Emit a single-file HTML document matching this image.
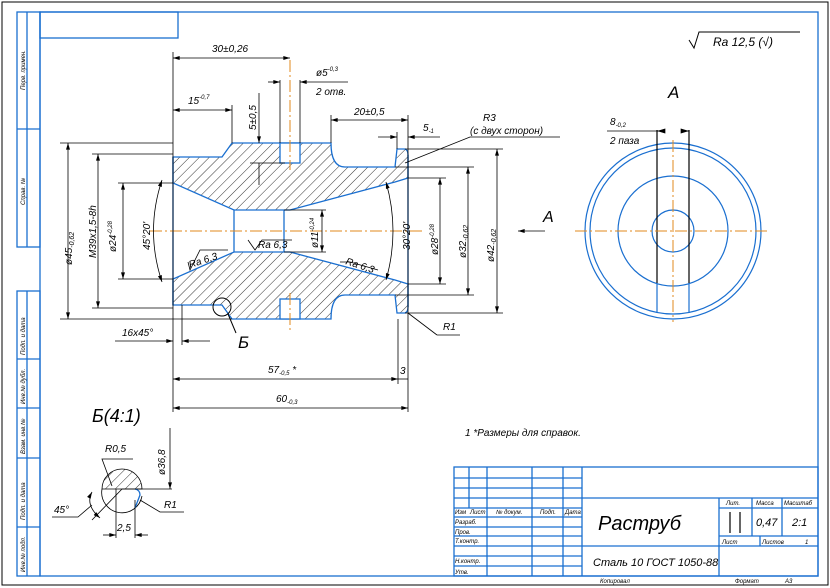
<!DOCTYPE html>
<html><head><meta charset="utf-8"><style>
html,body{margin:0;padding:0;background:#fff}
svg{display:block}
text{font-family:"Liberation Sans",sans-serif;font-style:italic;fill:#000}
</style></head><body>
<svg width="830" height="588" viewBox="0 0 830 588" xmlns="http://www.w3.org/2000/svg">
<defs>
<pattern id="h" patternUnits="userSpaceOnUse" width="7" height="7" patternTransform="rotate(45)">
<line x1="0" y1="0" x2="0" y2="7" stroke="#000" stroke-width="0.8"/>
</pattern>
<marker id="a" viewBox="0 0 10 6" refX="10" refY="3" markerWidth="9" markerHeight="5" orient="auto-start-reverse"><path d="M0,0L10,3L0,6z" fill="#000"/></marker>
</defs>
<rect x="2" y="2" width="826" height="583" fill="none" stroke="#000" stroke-width="1"/>
<g fill="none" stroke="#1a6fd0" stroke-width="1.3">
<rect x="40" y="12" width="778" height="564"/>
<rect x="40" y="12" width="138" height="26"/>
<rect x="17" y="12" width="23" height="235"/><line x1="27" y1="12" x2="27" y2="247"/><line x1="17" y1="129" x2="40" y2="129"/>
<rect x="17" y="291" width="23" height="285"/><line x1="27" y1="291" x2="27" y2="576"/>
<line x1="17" y1="359" x2="40" y2="359"/><line x1="17" y1="408" x2="40" y2="408"/><line x1="17" y1="458" x2="40" y2="458"/><line x1="17" y1="527" x2="40" y2="527"/>
<rect x="454" y="467" width="364" height="109"/>
<line x1="454" y1="478" x2="582" y2="478"/><line x1="454" y1="488" x2="582" y2="488"/><line x1="454" y1="498" x2="818" y2="498"/><line x1="454" y1="508" x2="582" y2="508"/><line x1="454" y1="517" x2="582" y2="517"/><line x1="454" y1="527" x2="582" y2="527"/><line x1="454" y1="536" x2="582" y2="536"/><line x1="454" y1="546" x2="818" y2="546"/><line x1="454" y1="556" x2="582" y2="556"/><line x1="454" y1="566" x2="582" y2="566"/>
<line x1="469" y1="467" x2="469" y2="508"/><line x1="487" y1="467" x2="487" y2="576"/><line x1="532" y1="467" x2="532" y2="576"/><line x1="563" y1="467" x2="563" y2="576"/><line x1="582" y1="467" x2="582" y2="576"/>
<line x1="719" y1="498" x2="719" y2="576"/><line x1="752" y1="498" x2="752" y2="536"/><line x1="782" y1="498" x2="782" y2="536"/><line x1="719" y1="508" x2="818" y2="508"/><line x1="719" y1="536" x2="818" y2="536"/><line x1="760" y1="536" x2="760" y2="546"/>
</g>
<g stroke="#000" stroke-width="1.2"><line x1="730" y1="512" x2="730" y2="533"/><line x1="740" y1="512" x2="740" y2="533"/></g>
<g font-size="6">
<text transform="translate(25,90) rotate(-90)">Перв. примен.</text>
<text transform="translate(25,205) rotate(-90)">Справ. №</text>
<text transform="translate(25,355) rotate(-90)">Подп. и дата</text>
<text transform="translate(25,404) rotate(-90)">Инв.№ дубл.</text>
<text transform="translate(25,454) rotate(-90)">Взам. инв.№</text>
<text transform="translate(25,520) rotate(-90)">Подп. и дата</text>
<text transform="translate(25,572) rotate(-90)">Инв.№ подл.</text>
<text x="455" y="514">Изм</text><text x="470" y="514">Лист</text><text x="496" y="514">№ докум.</text><text x="540" y="514">Подп.</text><text x="565" y="514">Дата</text>
<text x="455" y="524">Разраб.</text><text x="455" y="534">Пров.</text><text x="455" y="543">Т.контр.</text><text x="455" y="563">Н.контр.</text><text x="455" y="574">Утв.</text>
<text x="726" y="505">Лит.</text><text x="756" y="505">Масса</text><text x="784" y="505">Масштаб</text>
<text x="722" y="544">Лист</text><text x="762" y="544">Листов</text><text x="805" y="544">1</text>
<text x="600" y="583">Копировал</text><text x="735" y="583">Формат</text><text x="785" y="583">А3</text>
</g>
<text x="598" y="530" font-size="20">Раструб</text>
<text x="593" y="566" font-size="11">Сталь 10 ГОСТ 1050-88</text>
<text x="756" y="526" font-size="11">0,47</text><text x="792" y="526" font-size="11">2:1</text>

<!-- section -->
<path d="M173,157L222,157L232,143L331,143Q331,167 345,167L395,167L397,149L405,149Q408,150 408,155L408,178L395,182L290,210L234,210L173,183Z" fill="url(#h)" stroke="#1a6fd0" stroke-width="1.3"/>
<path d="M173,305L222,305L232,319L331,319Q331,295 345,295L395,295L397,313L405,313Q408,312 408,307L408,284L395,280L290,252L234,252L173,279Z" fill="url(#h)" stroke="#1a6fd0" stroke-width="1.3"/>
<rect x="280" y="143" width="20" height="20" fill="#fff" stroke="#1a6fd0" stroke-width="1.3"/>
<rect x="280" y="299" width="20" height="20" fill="#fff" stroke="#1a6fd0" stroke-width="1.3"/>
<g stroke="#1a6fd0" stroke-width="1.3" fill="none"><line x1="173" y1="157" x2="173" y2="305"/><line x1="234" y1="210" x2="234" y2="252"/><line x1="284" y1="210" x2="284" y2="252"/><line x1="408" y1="155" x2="408" y2="307"/></g>
<g stroke="#e08a1e" stroke-width="1" stroke-dasharray="12,3,2,3"><line x1="150" y1="231" x2="425" y2="231"/><line x1="290" y1="60" x2="290" y2="170"/><line x1="290" y1="293" x2="290" y2="330"/></g>
<circle cx="222" cy="307" r="9" fill="none" stroke="#000"/>
<polyline points="228,314 236,333" fill="none" stroke="#000"/><text x="238" y="348" font-size="17" font-style="normal">Б</text>

<g stroke="#000" stroke-width="0.8" fill="none">
<line x1="173" y1="52" x2="173" y2="412"/><line x1="408" y1="115" x2="408" y2="412"/><line x1="232" y1="105" x2="232" y2="143"/>
<line x1="173" y1="58" x2="290" y2="58" marker-start="url(#a)" marker-end="url(#a)"/>
<line x1="173" y1="110" x2="232" y2="110" marker-start="url(#a)" marker-end="url(#a)"/>
<line x1="259" y1="93" x2="259" y2="143" marker-end="url(#a)"/><line x1="259" y1="163" x2="259" y2="185"/><line x1="250" y1="163" x2="285" y2="163"/>
<line x1="280" y1="80" x2="280" y2="143"/><line x1="300" y1="80" x2="300" y2="143"/>
<line x1="268" y1="82" x2="280" y2="82" marker-end="url(#a)"/><line x1="348" y1="82" x2="300" y2="82" marker-end="url(#a)"/>
<line x1="331" y1="115" x2="331" y2="143"/><line x1="331" y1="120" x2="408" y2="120" marker-start="url(#a)" marker-end="url(#a)"/>
<line x1="397" y1="132" x2="397" y2="149"/><line x1="378" y1="137" x2="397" y2="137" marker-end="url(#a)"/><line x1="440" y1="137" x2="408" y2="137" marker-end="url(#a)"/>
<polyline points="405,163 470,137 560,137"/>
<line x1="60" y1="143" x2="173" y2="143"/><line x1="60" y1="319" x2="232" y2="319"/>
<line x1="68" y1="143" x2="68" y2="319" marker-start="url(#a)" marker-end="url(#a)"/>
<line x1="92" y1="154" x2="173" y2="154"/><line x1="92" y1="308" x2="173" y2="308"/>
<line x1="98" y1="154" x2="98" y2="308" marker-start="url(#a)" marker-end="url(#a)"/>
<line x1="118" y1="183" x2="173" y2="183"/><line x1="118" y1="279" x2="173" y2="279"/>
<line x1="123" y1="183" x2="123" y2="279" marker-start="url(#a)" marker-end="url(#a)"/>
<path d="M162,180 Q145,231 162,282" marker-start="url(#a)" marker-end="url(#a)"/>
<line x1="322" y1="210" x2="322" y2="252" marker-start="url(#a)" marker-end="url(#a)"/><line x1="284" y1="210" x2="326" y2="210"/><line x1="284" y1="252" x2="326" y2="252"/>
<path d="M386,182 Q400,231 386,280" marker-start="url(#a)" marker-end="url(#a)"/>
<line x1="408" y1="178" x2="446" y2="178"/><line x1="408" y1="284" x2="446" y2="284"/><line x1="440" y1="178" x2="440" y2="284" marker-start="url(#a)" marker-end="url(#a)"/>
<line x1="395" y1="167" x2="474" y2="167"/><line x1="395" y1="295" x2="474" y2="295"/><line x1="468" y1="167" x2="468" y2="295" marker-start="url(#a)" marker-end="url(#a)"/>
<line x1="405" y1="149" x2="503" y2="149"/><line x1="405" y1="313" x2="503" y2="313"/><line x1="497" y1="149" x2="497" y2="313" marker-start="url(#a)" marker-end="url(#a)"/>
<line x1="545" y1="231" x2="518" y2="231" marker-end="url(#a)"/>
<line x1="173" y1="379" x2="398" y2="379" marker-start="url(#a)" marker-end="url(#a)"/><line x1="398" y1="319" x2="398" y2="384"/><line x1="398" y1="379" x2="408" y2="379"/>
<line x1="173" y1="408" x2="408" y2="408" marker-start="url(#a)" marker-end="url(#a)"/>
<line x1="115" y1="341" x2="173" y2="341" marker-end="url(#a)"/><line x1="210" y1="341" x2="182" y2="341" marker-end="url(#a)"/><line x1="182" y1="305" x2="182" y2="345"/>
<line x1="408" y1="313" x2="437" y2="335"/><line x1="437" y1="335" x2="460" y2="335"/>
<polyline points="188,262 190,270 200,250 228,250"/><polyline points="248,240 255,250 262,240 292,240"/><polyline points="340,262 350,262 378,270"/>
</g>
<g font-size="10">
<text x="212" y="52">30±0,26</text><text x="188" y="104">15<tspan font-size="6" dy="-5">-0,7</tspan></text>
<text transform="translate(256,130) rotate(-90)">5±0,5</text>
<text x="316" y="76">ø5<tspan font-size="6" dy="-5">-0,3</tspan></text><text x="316" y="95">2 отв.</text>
<text x="354" y="115">20±0,5</text><text x="423" y="131">5<tspan font-size="6" dy="2">-1</tspan></text>
<text x="483" y="121">R3</text><text x="470" y="134">(с двух сторон)</text>
<text transform="translate(72,265) rotate(-90)">ø45<tspan font-size="7" dy="2">-0,62</tspan></text>
<text transform="translate(96,258) rotate(-90)">M39x1,5-8h</text>
<text transform="translate(116,252) rotate(-90)">ø24<tspan font-size="6" dy="-4">-0,28</tspan></text>
<text transform="translate(150,250) rotate(-90)">45°20'</text>
<text transform="translate(318,248) rotate(-90)">ø11<tspan font-size="6" dy="-4">-0,24</tspan></text>
<text transform="translate(410,250) rotate(-90)">30°20'</text>
<text transform="translate(438,255) rotate(-90)">ø28<tspan font-size="6" dy="-4">-0,28</tspan></text>
<text transform="translate(466,258) rotate(-90)">ø32<tspan font-size="7" dy="2">-0,62</tspan></text>
<text transform="translate(494,262) rotate(-90)">ø42<tspan font-size="7" dy="2">-0,62</tspan></text>
<text x="190" y="268" transform="rotate(-18 190 268)">Ra 6,3</text><text x="258" y="248">Ra 6,3</text><text x="345" y="264" transform="rotate(18 345 264)">Ra 6,3</text>
<text x="122" y="336">16x45°</text>
<text x="268" y="373">57<tspan font-size="6" dy="2">-0,5</tspan><tspan dy="-2"> *</tspan></text><text x="400" y="374">3</text>
<text x="276" y="402">60<tspan font-size="6" dy="2">-0,3</tspan></text>
<text x="465" y="436">1  *Размеры для справок.</text>
<text x="443" y="330">R1</text>
</g>
<text x="543" y="222" font-size="16" font-style="normal">A</text>
<text x="668" y="98" font-size="17" font-style="normal">A</text>
<path d="M689,40 L694,48 L699,32 L800,32" fill="none" stroke="#000"/>
<text x="713" y="46" font-size="12">Ra 12,5 (√)</text>

<!-- view A -->
<g fill="none" stroke="#1a6fd0" stroke-width="1.2">
<circle cx="673" cy="231" r="88"/><circle cx="673" cy="231" r="83"/><circle cx="673" cy="231" r="55"/><circle cx="673" cy="231" r="21"/>
<line x1="657" y1="283" x2="657" y2="313"/><line x1="689" y1="283" x2="689" y2="313"/>
</g>
<g stroke="#000" stroke-width="1.2"><line x1="657" y1="130" x2="657" y2="283"/><line x1="689" y1="130" x2="689" y2="283"/></g>
<g stroke="#e08a1e" stroke-width="1" stroke-dasharray="12,3,2,3"><line x1="575" y1="231" x2="770" y2="231"/><line x1="673" y1="140" x2="673" y2="322"/></g>
<line x1="607" y1="131" x2="657" y2="131" stroke="#000" stroke-width="0.8"/>
<line x1="664" y1="131" x2="657" y2="131" stroke="#000" marker-end="url(#a)"/><line x1="682" y1="131" x2="689" y2="131" stroke="#000" marker-end="url(#a)"/>
<text x="610" y="125" font-size="10">8<tspan font-size="6" dy="2">-0,2</tspan></text><text x="610" y="144" font-size="10">2 паза</text>

<!-- detail B -->
<text x="92" y="422" font-size="18" font-style="normal">Б(4:1)</text>
<path d="M102,489 A20,20 0 0 1 142,489 L122,489 Z" fill="url(#h)" stroke="#000" stroke-width="0.8"/>
<path d="M102,489 A20,20 0 0 0 142,496" fill="none" stroke="#000" stroke-width="0.8"/>
<path d="M135,489 Q140,490 140,495 L135,508" fill="none" stroke="#1a6fd0" stroke-width="1.3"/>
<g stroke="#000" stroke-width="0.8" fill="none">
<line x1="122" y1="489" x2="172" y2="489"/><line x1="170" y1="428" x2="170" y2="489" marker-end="url(#a)"/>
<line x1="116" y1="489" x2="116" y2="538"/><line x1="135" y1="500" x2="135" y2="538"/>
<line x1="103" y1="535" x2="116" y2="535" marker-end="url(#a)"/><line x1="148" y1="535" x2="135" y2="535" marker-end="url(#a)"/>
<polyline points="133,459 102,459 112,486"/><line x1="122" y1="489" x2="92" y2="520"/>
<path d="M92,492 Q85,505 100,518" marker-start="url(#a)" marker-end="url(#a)"/><polyline points="52,517 78,517 92,505"/>
<polyline points="140,500 160,512 184,512"/>
</g>
<g font-size="10"><text x="105" y="452">R0,5</text><text transform="translate(165,475) rotate(-90)">ø36,8</text><text x="117" y="531">2,5</text><text x="54" y="513">45°</text><text x="164" y="508">R1</text></g>
</svg>
</body></html>
